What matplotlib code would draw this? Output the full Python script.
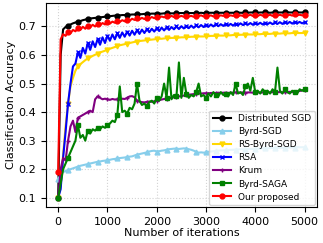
import numpy as np
import matplotlib
matplotlib.use("Agg")
import matplotlib.pyplot as plt

# iterations (one sample every 50 iterations)
iters = np.arange(0, 5001, 50)

dist_sgd = [
    0.100, 0.600, 0.690, 0.698, 0.703, 0.707, 0.711, 0.714, 0.716, 0.719,
    0.722, 0.724, 0.727, 0.728, 0.729, 0.730, 0.731, 0.732, 0.733, 0.734,
    0.735, 0.736, 0.737, 0.738, 0.738, 0.739, 0.740, 0.740, 0.741, 0.741,
    0.742, 0.742, 0.743, 0.743, 0.743, 0.744, 0.744, 0.744, 0.745, 0.745,
    0.745, 0.745, 0.745, 0.746, 0.746, 0.746, 0.746, 0.746, 0.746, 0.747,
    0.747, 0.747, 0.747, 0.747, 0.747, 0.747, 0.747, 0.747, 0.748, 0.747,
    0.747, 0.748, 0.748, 0.748, 0.747, 0.748, 0.748, 0.748, 0.748, 0.748,
    0.748, 0.748, 0.748, 0.749, 0.748, 0.748, 0.749, 0.748, 0.749, 0.749,
    0.749, 0.748, 0.749, 0.749, 0.749, 0.749, 0.748, 0.749, 0.749, 0.749,
    0.749, 0.749, 0.749, 0.750, 0.749, 0.749, 0.749, 0.750, 0.749, 0.749,
    0.750,
]

byrd_sgd = [
    0.165, 0.180, 0.190, 0.194, 0.197, 0.200, 0.203, 0.206, 0.209, 0.212,
    0.214, 0.216, 0.218, 0.220, 0.222, 0.224, 0.226, 0.227, 0.229, 0.230,
    0.232, 0.233, 0.235, 0.236, 0.238, 0.239, 0.240, 0.241, 0.243, 0.244,
    0.245, 0.248, 0.251, 0.253, 0.255, 0.257, 0.259, 0.262, 0.264, 0.265,
    0.262, 0.263, 0.265, 0.266, 0.268, 0.270, 0.271, 0.272, 0.272, 0.271,
    0.272, 0.273, 0.272, 0.270, 0.268, 0.265, 0.261, 0.258, 0.259, 0.258,
    0.259, 0.261, 0.262, 0.263, 0.264, 0.265, 0.266, 0.266, 0.267, 0.267,
    0.268, 0.268, 0.269, 0.269, 0.270, 0.270, 0.270, 0.271, 0.271, 0.271,
    0.272, 0.272, 0.272, 0.273, 0.273, 0.273, 0.274, 0.274, 0.274, 0.275,
    0.275, 0.275, 0.275, 0.276, 0.276, 0.276, 0.276, 0.277, 0.277, 0.277,
    0.277,
]

rs_byrd_sgd = [
    0.100, 0.140, 0.250, 0.350, 0.430, 0.490, 0.520, 0.545, 0.560, 0.568,
    0.575, 0.582, 0.588, 0.592, 0.597, 0.601, 0.605, 0.609, 0.612, 0.615,
    0.619, 0.622, 0.625, 0.628, 0.631, 0.634, 0.636, 0.638, 0.640, 0.642,
    0.644, 0.646, 0.647, 0.649, 0.650, 0.651, 0.652, 0.653, 0.654, 0.655,
    0.656, 0.657, 0.657, 0.658, 0.659, 0.659, 0.660, 0.660, 0.661, 0.661,
    0.662, 0.662, 0.663, 0.663, 0.664, 0.664, 0.664, 0.665, 0.665, 0.665,
    0.666, 0.666, 0.667, 0.667, 0.667, 0.668, 0.668, 0.668, 0.669, 0.669,
    0.669, 0.670, 0.670, 0.670, 0.671, 0.671, 0.671, 0.672, 0.672, 0.672,
    0.673, 0.673, 0.673, 0.674, 0.674, 0.674, 0.674, 0.675, 0.675, 0.675,
    0.675, 0.676, 0.676, 0.676, 0.676, 0.677, 0.677, 0.677, 0.677, 0.677,
    0.678,
]

rsa = [
    0.100, 0.130, 0.240, 0.330, 0.430, 0.500, 0.560, 0.570, 0.610, 0.590,
    0.625, 0.605, 0.642, 0.618, 0.648, 0.628, 0.656, 0.636, 0.662, 0.642,
    0.668, 0.650, 0.672, 0.655, 0.676, 0.660, 0.679, 0.664, 0.682, 0.668,
    0.685, 0.671, 0.687, 0.674, 0.689, 0.677, 0.691, 0.680, 0.692, 0.682,
    0.694, 0.684, 0.696, 0.686, 0.697, 0.688, 0.698, 0.690, 0.700, 0.691,
    0.701, 0.693, 0.702, 0.694, 0.703, 0.695, 0.704, 0.697, 0.705, 0.698,
    0.706, 0.699, 0.707, 0.700, 0.708, 0.701, 0.708, 0.702, 0.709, 0.703,
    0.709, 0.703, 0.710, 0.704, 0.711, 0.705, 0.711, 0.706, 0.712, 0.706,
    0.712, 0.707, 0.713, 0.707, 0.713, 0.708, 0.714, 0.708, 0.714, 0.709,
    0.715, 0.709, 0.715, 0.710, 0.716, 0.710, 0.716, 0.711, 0.716, 0.711,
    0.715,
]

krum = [
    0.100, 0.200, 0.240, 0.230, 0.300, 0.350, 0.370, 0.330, 0.380, 0.385,
    0.390, 0.395, 0.400, 0.405, 0.400, 0.445, 0.455, 0.450, 0.445, 0.447,
    0.445, 0.443, 0.446, 0.444, 0.445, 0.443, 0.447, 0.446, 0.450, 0.455,
    0.456, 0.452, 0.440, 0.437, 0.435, 0.434, 0.436, 0.437, 0.436, 0.438,
    0.440, 0.442, 0.444, 0.446, 0.447, 0.449, 0.450, 0.452, 0.453, 0.455,
    0.456, 0.458, 0.459, 0.461, 0.462, 0.463, 0.464, 0.465, 0.465, 0.466,
    0.466, 0.466, 0.467, 0.467, 0.467, 0.468, 0.467, 0.468, 0.468, 0.467,
    0.468, 0.468, 0.469, 0.468, 0.468, 0.469, 0.468, 0.469, 0.469, 0.468,
    0.469, 0.469, 0.468, 0.469, 0.470, 0.469, 0.469, 0.470, 0.469, 0.470,
    0.470, 0.469, 0.470, 0.470, 0.471, 0.470, 0.471, 0.472, 0.474, 0.476,
    0.478,
]

byrd_saga = [
    0.100, 0.150, 0.200, 0.220, 0.240, 0.260, 0.280, 0.300, 0.355, 0.310,
    0.320, 0.300, 0.335, 0.325, 0.340, 0.335, 0.345, 0.340, 0.350, 0.345,
    0.355, 0.360, 0.370, 0.365, 0.390, 0.490, 0.400, 0.405, 0.395, 0.415,
    0.410, 0.430, 0.500, 0.440, 0.425, 0.430, 0.420, 0.435, 0.440, 0.430,
    0.450, 0.440, 0.455, 0.500, 0.450, 0.556, 0.445, 0.460, 0.455, 0.574,
    0.450, 0.520, 0.465, 0.450, 0.460, 0.455, 0.470, 0.500, 0.455, 0.460,
    0.450, 0.465, 0.455, 0.470, 0.460, 0.455, 0.470, 0.460, 0.465, 0.455,
    0.470, 0.460, 0.500, 0.465, 0.470, 0.460, 0.490, 0.500, 0.475, 0.520,
    0.470, 0.475, 0.465, 0.480, 0.470, 0.475, 0.465, 0.480, 0.470, 0.556,
    0.475, 0.465, 0.480, 0.470, 0.465, 0.475, 0.470, 0.465, 0.480, 0.475,
    0.480,
]

ours = [
    0.190, 0.655, 0.673, 0.667, 0.682, 0.676, 0.688, 0.683, 0.694, 0.688,
    0.699, 0.692, 0.703, 0.697, 0.706, 0.700, 0.709, 0.704, 0.712, 0.707,
    0.715, 0.710, 0.717, 0.713, 0.720, 0.716, 0.722, 0.718, 0.724, 0.720,
    0.727, 0.723, 0.728, 0.725, 0.730, 0.726, 0.731, 0.728, 0.733, 0.729,
    0.734, 0.731, 0.735, 0.732, 0.736, 0.733, 0.737, 0.733, 0.736, 0.734,
    0.737, 0.734, 0.738, 0.735, 0.737, 0.734, 0.738, 0.736, 0.739, 0.735,
    0.738, 0.736, 0.739, 0.735, 0.738, 0.736, 0.739, 0.737, 0.740, 0.736,
    0.739, 0.737, 0.740, 0.736, 0.739, 0.737, 0.740, 0.738, 0.741, 0.737,
    0.740, 0.737, 0.741, 0.738, 0.740, 0.738, 0.741, 0.737, 0.740, 0.738,
    0.741, 0.738, 0.741, 0.739, 0.741, 0.738, 0.742, 0.739, 0.741, 0.739,
    0.740,
]

series = [
    ("Distributed SGD", dist_sgd, "black", "o"),
    ("Byrd-SGD", byrd_sgd, "skyblue", "^"),
    ("RS-Byrd-SGD", rs_byrd_sgd, "gold", "v"),
    ("RSA", rsa, "blue", "x"),
    ("Krum", krum, "purple", "+"),
    ("Byrd-SAGA", byrd_saga, "green", "s"),
    ("Our proposed", ours, "red", "o"),
]

fig = plt.figure(figsize=(3.23, 2.43), dpi=100)
ax = fig.add_subplot(111)
fig.subplots_adjust(left=0.142, right=0.981, top=0.988, bottom=0.148)

for label, values, color, marker in series:
    ax.plot(iters, values, color=color, marker=marker, markevery=4,
            markersize=3.5, linewidth=1.5, label=label)

ax.set_xticks([0, 1000, 2000, 3000, 4000, 5000])
ax.set_yticks([0.1, 0.2, 0.3, 0.4, 0.5, 0.6, 0.7])
ax.tick_params(labelsize=8)
ax.grid(True, linestyle=":", color="lightgray")

ax.set_xlabel("Number of iterations", fontsize=8, labelpad=1)
ax.set_ylabel("Classification Accuracy", fontsize=8, labelpad=2)

ax.legend(loc="lower right", fontsize=6.5, borderaxespad=0.2,
          handlelength=2.0, labelspacing=0.45)

fig.savefig("out.png", dpi=100)
